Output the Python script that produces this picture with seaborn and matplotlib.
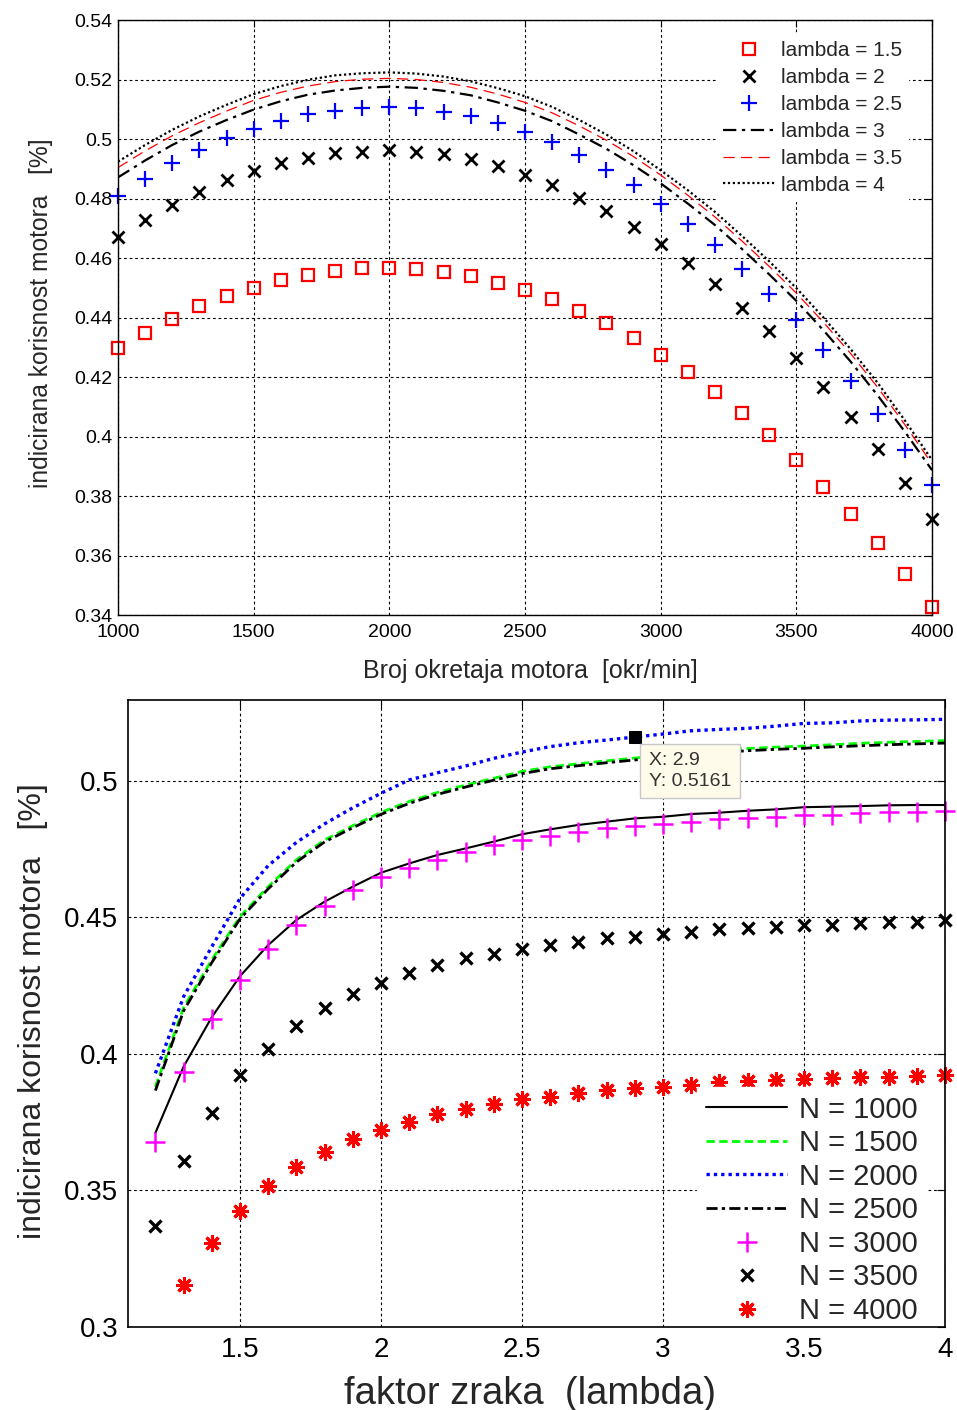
import numpy as np
import pandas as pd
import matplotlib
matplotlib.use("Agg")
import matplotlib.pyplot as plt
import seaborn as sns

# ---------------- data: top panel ----------------
rpm = [1000, 1100, 1200, 1300, 1400, 1500, 1600, 1700, 1800, 1900, 2000,
       2100, 2200, 2300, 2400, 2500, 2600, 2700, 2800, 2900, 3000,
       3100, 3200, 3300, 3400, 3500, 3600, 3700, 3800, 3900, 4000]

eta_l15 = [0.4297, 0.4349, 0.4394, 0.4439, 0.4473, 0.4500, 0.4526, 0.4543, 0.4556, 0.4565, 0.4565,
           0.4562, 0.4553, 0.4538, 0.4517, 0.4491, 0.4461, 0.4422, 0.4381, 0.4332, 0.4274,
           0.4218, 0.4151, 0.4080, 0.4005, 0.3921, 0.3831, 0.3738, 0.3641, 0.3537, 0.3426]
eta_l20 = [0.4671, 0.4728, 0.4778, 0.4822, 0.4862, 0.4892, 0.4919, 0.4936, 0.4953, 0.4957, 0.4963,
           0.4957, 0.4950, 0.4933, 0.4909, 0.4879, 0.4845, 0.4802, 0.4758, 0.4704, 0.4647,
           0.4583, 0.4513, 0.4432, 0.4355, 0.4264, 0.4166, 0.4066, 0.3958, 0.3844, 0.3723]
eta_l25 = [0.4808, 0.4866, 0.4919, 0.4963, 0.5002, 0.5034, 0.5061, 0.5083, 0.5095, 0.5104, 0.5108,
           0.5103, 0.5092, 0.5078, 0.5053, 0.5025, 0.4990, 0.4945, 0.4897, 0.4844, 0.4783,
           0.4715, 0.4644, 0.4563, 0.4478, 0.4392, 0.4291, 0.4187, 0.4075, 0.3955, 0.3836]
eta_l30 = [0.4871, 0.4928, 0.4980, 0.5025, 0.5064, 0.5099, 0.5127, 0.5149, 0.5163, 0.5172, 0.5176,
           0.5172, 0.5162, 0.5147, 0.5123, 0.5095, 0.5060, 0.5015, 0.4967, 0.4912, 0.4851,
           0.4783, 0.4711, 0.4630, 0.4545, 0.4456, 0.4357, 0.4252, 0.4138, 0.4016, 0.3887]
eta_l35 = [0.4904, 0.4960, 0.5011, 0.5055, 0.5094, 0.5130, 0.5157, 0.5178, 0.5193, 0.5201, 0.5204,
           0.5200, 0.5190, 0.5174, 0.5151, 0.5123, 0.5088, 0.5044, 0.4996, 0.4941, 0.4879,
           0.4811, 0.4738, 0.4657, 0.4572, 0.4482, 0.4384, 0.4279, 0.4165, 0.4040, 0.3908]
eta_l40 = [0.4924, 0.4980, 0.5031, 0.5076, 0.5115, 0.5151, 0.5178, 0.5199, 0.5214, 0.5221, 0.5224,
           0.5220, 0.5210, 0.5194, 0.5171, 0.5144, 0.5108, 0.5064, 0.5015, 0.4959, 0.4895,
           0.4828, 0.4755, 0.4674, 0.4589, 0.4499, 0.4400, 0.4294, 0.4180, 0.4054, 0.3921]
top_labels = ["lambda = 1.5", "lambda = 2", "lambda = 2.5",
              "lambda = 3", "lambda = 3.5", "lambda = 4"]
top_xticks = [1000, 1500, 2000, 2500, 3000, 3500, 4000]
top_yticks = [0.34, 0.36, 0.38, 0.40, 0.42, 0.44, 0.46, 0.48, 0.50, 0.52, 0.54]
top_yticklabels = ["0.34", "0.36", "0.38", "0.4", "0.42", "0.44", "0.46",
                   "0.48", "0.5", "0.52", "0.54"]

# ---------------- data: bottom panel ----------------
lam = [1.2, 1.3, 1.4, 1.5, 1.6, 1.7, 1.8, 1.9, 2.0, 2.1, 2.2, 2.3, 2.4, 2.5, 2.6,
       2.7, 2.8, 2.9, 3.0, 3.1, 3.2, 3.3, 3.4, 3.5, 3.6, 3.7, 3.8, 3.9, 4.0]
lam_n4000 = [1.3, 1.4, 1.5, 1.6, 1.7, 1.8, 1.9, 2.0, 2.1, 2.2, 2.3, 2.4, 2.5, 2.6,
             2.7, 2.8, 2.9, 3.0, 3.1, 3.2, 3.3, 3.4, 3.5, 3.6, 3.7, 3.8, 3.9, 4.0]

eta_n1000 = [0.3711, 0.3954, 0.4135, 0.4285, 0.4399, 0.4491, 0.4558, 0.4613, 0.4664, 0.4698,
             0.4729, 0.4753, 0.4778, 0.4805, 0.4823, 0.4839, 0.4851, 0.4863, 0.4869, 0.4879,
             0.4884, 0.4891, 0.4896, 0.4904, 0.4906, 0.4908, 0.4911, 0.4912, 0.4912]
eta_n1500 = [0.3880, 0.4170, 0.4345, 0.4503, 0.4613, 0.4711, 0.4784, 0.4836, 0.4885, 0.4925,
             0.4958, 0.4985, 0.5010, 0.5035, 0.5052, 0.5063, 0.5074, 0.5084, 0.5094, 0.5103,
             0.5112, 0.5119, 0.5124, 0.5128, 0.5133, 0.5138, 0.5142, 0.5145, 0.5148]
eta_n2000 = [0.3929, 0.4210, 0.4393, 0.4570, 0.4690, 0.4775, 0.4843, 0.4902, 0.4955, 0.5004,
             0.5030, 0.5055, 0.5083, 0.5106, 0.5126, 0.5140, 0.5150, 0.5161, 0.5172, 0.5184,
             0.5189, 0.5193, 0.5201, 0.5211, 0.5213, 0.5220, 0.5223, 0.5224, 0.5226]
eta_n2500 = [0.3866, 0.4158, 0.4335, 0.4495, 0.4605, 0.4703, 0.4777, 0.4829, 0.4878, 0.4918,
             0.4951, 0.4978, 0.5003, 0.5027, 0.5045, 0.5056, 0.5067, 0.5077, 0.5087, 0.5096,
             0.5104, 0.5111, 0.5116, 0.5120, 0.5125, 0.5129, 0.5133, 0.5136, 0.5139]
eta_n3000 = [0.3677, 0.3935, 0.4127, 0.4272, 0.4385, 0.4474, 0.4542, 0.4601, 0.4647, 0.4682,
             0.4711, 0.4741, 0.4766, 0.4784, 0.4800, 0.4814, 0.4827, 0.4835, 0.4841, 0.4851,
             0.4860, 0.4866, 0.4869, 0.4875, 0.4875, 0.4882, 0.4888, 0.4888, 0.4891]
eta_n3500 = [0.3370, 0.3609, 0.3785, 0.3922, 0.4019, 0.4103, 0.4167, 0.4220, 0.4261, 0.4298,
             0.4326, 0.4351, 0.4366, 0.4384, 0.4399, 0.4411, 0.4424, 0.4430, 0.4440, 0.4448,
             0.4457, 0.4463, 0.4466, 0.4473, 0.4473, 0.4479, 0.4482, 0.4485, 0.4491]
eta_n4000 = [0.3154, 0.3307, 0.3426, 0.3518, 0.3587, 0.3640, 0.3688, 0.3722, 0.3752, 0.3780,
             0.3799, 0.3817, 0.3834, 0.3844, 0.3858, 0.3868, 0.3874, 0.3880, 0.3886, 0.3899,
             0.3902, 0.3905, 0.3908, 0.3911, 0.3915, 0.3917, 0.3919, 0.3923]
bot_labels = ["N = 1000", "N = 1500", "N = 2000", "N = 2500",
              "N = 3000", "N = 3500", "N = 4000"]
bot_xticks = [1.5, 2.0, 2.5, 3.0, 3.5, 4.0]
bot_xticklabels = ["1.5", "2", "2.5", "3", "3.5", "4"]
bot_yticks = [0.30, 0.35, 0.40, 0.45, 0.50]
bot_yticklabels = ["0.3", "0.35", "0.4", "0.45", "0.5"]
tip_x = 2.9
tip_y = 0.5161

# ---------------- style ----------------
sns.set_style("white")
plt.rcParams["font.family"] = ["Liberation Sans", "DejaVu Sans"]
plt.rcParams["axes.linewidth"] = 1.0

fig = plt.figure(figsize=(9.57, 14.1), dpi=100)
ax1 = fig.add_axes([0.1233, 0.5638, 0.8506, 0.4220])
ax2 = fig.add_axes([0.1338, 0.0589, 0.8537, 0.4447])

GRID = dict(color="black", linestyle=(0, (2.5, 2.5)), linewidth=0.8)


def mark(ax, x, y, color, marker, ms, mew, label, fill="none"):
    sns.lineplot(x=x, y=y, ax=ax, color=color, linestyle="none", marker=marker,
                 markersize=ms, markeredgewidth=mew, markeredgecolor=color,
                 markerfacecolor=fill, label=label, estimator=None, sort=False,
                 legend=False, clip_on=False, zorder=3)


def line(ax, x, y, color, ls, lw, label):
    sns.lineplot(x=x, y=y, ax=ax, color=color, linestyle=ls, linewidth=lw,
                 label=label, estimator=None, sort=False, legend=False, zorder=3)


# ---------------- top panel ----------------
mark(ax1, rpm, eta_l15, "#ff0000", "s", 8, 1.6, top_labels[0])
mark(ax1, rpm, eta_l20, "black", "x", 8, 2.0, top_labels[1])
mark(ax1, rpm, eta_l25, "#0000ff", "+", 11, 1.6, top_labels[2])
line(ax1, rpm, eta_l30, "black", (0, (6, 2.5, 1.5, 2.5)), 1.6, top_labels[3])
line(ax1, rpm, eta_l35, "#ff0000", (0, (9, 5)), 0.9, top_labels[4])
line(ax1, rpm, eta_l40, "black", (0, (1, 1.2)), 1.6, top_labels[5])

ax1.set_xlim(1000, 4000)
ax1.set_ylim(0.34, 0.54)
ax1.set_xticks(top_xticks)
ax1.set_xticklabels([str(v) for v in top_xticks])
ax1.set_yticks(top_yticks)
ax1.set_yticklabels(top_yticklabels)
ax1.grid(True, **GRID)
ax1.set_axisbelow(True)
ax1.tick_params(direction="in", top=True, right=True, length=5, width=0.8,
                labelsize=14, pad=4, colors="black")
ax1.tick_params(axis="x", pad=6.5)
ax1.set_xlabel("Broj okretaja motora  [okr/min]", fontsize=18)
ax1.set_ylabel("indicirana korisnost motora   [%]", fontsize=17.7)
ax1.xaxis.set_label_coords(0.507, -0.074)
ax1.yaxis.set_label_coords(-0.080, 0.508)
for s in ax1.spines.values():
    s.set_color("black")
    s.set_linewidth(1.0)
    s.set_zorder(6)

leg1 = ax1.legend(handles=ax1.lines[:6], labels=top_labels, loc="upper left",
                  bbox_to_anchor=(0.735, 0.975), borderaxespad=0, fontsize=15,
                  frameon=True, fancybox=False, framealpha=1, edgecolor="white",
                  facecolor="white", handlelength=2.5, handletextpad=0.3,
                  labelspacing=0.38, borderpad=0.3)

# ---------------- bottom panel ----------------
line(ax2, lam, eta_n1000, "black", "-", 1.5, bot_labels[0])
line(ax2, lam, eta_n1500, "#00ff00", (0, (3, 1.6)), 2.0, bot_labels[1])
line(ax2, lam, eta_n2000, "#0000ff", (0, (1, 1.2)), 2.4, bot_labels[2])
line(ax2, lam, eta_n2500, "black", (0, (4, 1.5, 1.2, 1.5)), 2.0, bot_labels[3])
mark(ax2, lam, eta_n3000, "#ff00ff", "+", 15, 1.8, bot_labels[4])
mark(ax2, lam, eta_n3500, "black", "x", 8, 2.4, bot_labels[5])
mark(ax2, lam_n4000, eta_n4000, "#ff0000", (8, 2, 0), 12, 2.2, bot_labels[6])

# data tip
sns.lineplot(x=[tip_x], y=[tip_y], ax=ax2, color="black", linestyle="none",
             marker="s", markersize=9, markeredgecolor="black",
             markerfacecolor="black", estimator=None, legend=False, zorder=4)
ax2.text(tip_x + 0.05, tip_y - 0.0056, f"X: {tip_x:g}\nY: {tip_y:.4f}",
         fontsize=14, color="#333333", ha="left", va="top", linespacing=1.25,
         bbox=dict(boxstyle="square,pad=0.45", facecolor="#fffbea",
                   edgecolor="#c8c8c8", linewidth=1.0), zorder=10)

ax2.set_xlim(1.103, 4.0)
ax2.set_ylim(0.30, 0.5297)
ax2.set_xticks(bot_xticks)
ax2.set_xticklabels(bot_xticklabels)
ax2.set_yticks(bot_yticks)
ax2.set_yticklabels(bot_yticklabels)
ax2.grid(True, **GRID)
ax2.set_axisbelow(True)
ax2.tick_params(direction="in", top=True, right=True, length=6, width=0.8,
                labelsize=20, pad=7, colors="black")
ax2.set_xlabel("faktor zraka  (lambda)", fontsize=27.5)
ax2.set_ylabel("indicirana korisnost motora   [%]", fontsize=23)
ax2.xaxis.set_label_coords(0.492, -0.079)
ax2.yaxis.set_label_coords(-0.098, 0.504)
for s in ax2.spines.values():
    s.set_color("black")
    s.set_linewidth(1.2)
    s.set_zorder(6)

leg2 = ax2.legend(handles=ax2.lines[:7], labels=bot_labels, loc="upper left",
                  bbox_to_anchor=(0.6965, 0.383), borderaxespad=0, fontsize=21,
                  frameon=True, fancybox=False, framealpha=1, edgecolor="white",
                  facecolor="white", handlelength=2.8, handletextpad=0.4,
                  labelspacing=0.19, borderpad=0.3)

fig.savefig("out.png", dpi=100)
